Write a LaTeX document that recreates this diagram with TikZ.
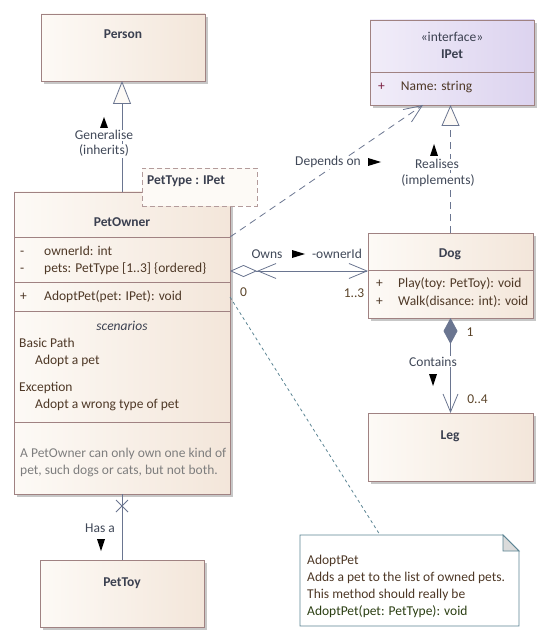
\documentclass[tikz,border=0pt]{standalone}
\usepackage{fontspec}
\setmainfont{Carlito}
\usetikzlibrary{arrows.meta,shadows}

\definecolor{boxleft}{HTML}{FDFAF6}
\definecolor{boxright}{HTML}{F3E6DA}
\definecolor{boxline}{HTML}{A08282}
\definecolor{ifleft}{HTML}{F1EDF9}
\definecolor{ifright}{HTML}{DCD3EF}
\definecolor{conn}{HTML}{6A7590}
\definecolor{nametext}{HTML}{3B4050}
\definecolor{membertext}{HTML}{4E3826}
\definecolor{plusmark}{HTML}{7A1E40}
\definecolor{greytext}{HTML}{7E7E7E}
\definecolor{noteline}{HTML}{5B8493}
\definecolor{labeltext}{HTML}{404858}
\definecolor{multtext}{HTML}{5A4328}

\newcommand{\diagfont}{\fontsize{13.5}{17}\selectfont}

\tikzset{
	classbox/.style={draw=boxline, line width=0.9pt, left color=boxleft, right color=boxright,
		anchor=north west, inner sep=0pt, outer sep=0pt,
		drop shadow={shadow xshift=3pt, shadow yshift=-3pt, fill=black!22, opacity=1}},
	clsname/.style={font=\diagfont\bfseries, text=nametext, anchor=base},
	member/.style={text=membertext, anchor=base west, inner sep=0pt},
	conline/.style={draw=conn, line width=0.8pt},
	lbl/.style={text=labeltext, anchor=base, fill=white, inner sep=1pt},
	mult/.style={text=multtext, anchor=base, inner sep=0pt},
	openhead/.tip={Straight Barb[length=18pt,width=15pt]},
}

\begin{document}
\begin{tikzpicture}[x=1pt, y=-1pt, font=\diagfont]
	\useasboundingbox (0,0) rectangle (552,644);

	\node[classbox, minimum width=164pt, minimum height=67pt] (person) at (41,14) {};
	\node[clsname] (personname) at (123,39) {Person};

	\node[classbox, left color=ifleft, right color=ifright, minimum width=164pt, minimum height=85pt] (ipet) at (370,20) {};
	\draw[boxline, line width=0.9pt] (ipet.west |- 0,72) -- (ipet.east |- 0,72);
	\node[anchor=base, text=nametext] (ipetstereo) at (452,41.5) {«interface»};
	\node[clsname] (ipetname) at (452,59) {IPet};
	\node[member] (ipetattr) at (378,91) {\makebox[22.7pt][l]{\color{plusmark}+}Name: string};

	\node[classbox, minimum width=216pt, minimum height=302pt] (petowner) at (14,192) {};
	\foreach \y in {237,282,311,422}
		\draw[boxline, line width=0.9pt] (petowner.west |- 0,\y) -- (petowner.east |- 0,\y);
	\node[clsname] (ownername) at (122,226) {PetOwner};
	\node[member] (ownerid) at (20,255) {\makebox[24pt][l]{-}ownerId: int};
	\node[member] (ownerpets) at (20,272) {\makebox[24pt][l]{-}pets: PetType [1..3] \{ordered\}};
	\node[member] (owneradopt) at (20,300) {\makebox[24pt][l]{+}AdoptPet(pet: IPet): void};
	\node[anchor=base, text=nametext, font=\diagfont\itshape] (scentitle) at (122,330) {scenarios};
	\node[member] (basicpath) at (19,347) {Basic Path};
	\node[member] (basicstep) at (35,364) {Adopt a pet};
	\node[member] (exception) at (19,391) {Exception};
	\node[member] (excstep) at (35,408) {Adopt a wrong type of pet};
	\node[member, text=greytext, anchor=north west, align=left] (ownernote) at (20,448)
		{A PetOwner can only own one kind of\\pet, such dogs or cats, but not both.};

	\node[draw=boxline!80, line width=0.9pt, dash pattern=on 5pt off 3pt, fill=boxleft,
		minimum width=115pt, minimum height=38pt, anchor=north west, inner sep=0pt, outer sep=0pt] (pettype) at (142,168) {};
	\node[member, text=nametext, font=\diagfont\bfseries] (pettypename) at (147,185) {PetType : IPet};

	\node[classbox, minimum width=165pt, minimum height=85pt] (dog) at (368,233) {};
	\draw[boxline, line width=0.9pt] (dog.west |- 0,270) -- (dog.east |- 0,270);
	\node[clsname] (dogname) at (450,257) {Dog};
	\node[member] (dogplay) at (376,287) {\makebox[22pt][l]{+}Play(toy: PetToy): void};
	\node[member] (dogwalk) at (376,305) {\makebox[22pt][l]{+}Walk(disance: int): void};

	\node[classbox, minimum width=165pt, minimum height=68pt] (leg) at (368,413) {};
	\node[clsname] (legname) at (450,439) {Leg};

	\node[classbox, minimum width=164pt, minimum height=67pt] (pettoy) at (40,560) {};
	\node[clsname] (pettoyname) at (122,586) {PetToy};

	\node[minimum width=219pt, minimum height=91pt, anchor=north west, inner sep=0pt, outer sep=0pt] (note) at (300,535) {};
	\draw[noteline, line width=0.9pt, fill=white] (note.north west) -- ([xshift=-16pt]note.north east)
		-- ([yshift=-16pt]note.north east) -- (note.south east) -- (note.south west) -- cycle;
	\draw[noteline, line width=0.9pt, fill=black!14] ([xshift=-16pt]note.north east)
		-- ([xshift=-16pt,yshift=-16pt]note.north east) -- ([yshift=-16pt]note.north east) -- cycle;
	\node[member, text=membertext, anchor=north west, align=left] (notetext) at (307,555)
		{AdoptPet\\Adds a pet to the list of owned pets.\\This method should really be\\\textcolor{multtext!80!green!60!black}{AdoptPet(pet: PetType): void}};

	% generalise
	\draw[conline, -{Triangle[length=23pt,width=18pt,fill=boxleft]}] (petowner.north) -- (petowner.north |- person.south);
	\node[lbl] (genlbl) at (104,140) {Generalise};
	\node[lbl] (genlbl2) at (104,155) {(inherits)};
	\fill (100,128) -- (104,117) -- (108,128) -- cycle;

	% realise
	\draw[conline, dash pattern=on 7pt off 5pt, -{Triangle[length=21pt,width=18pt,fill=boxleft]}] (dog.north) -- (dog.north |- ipet.south);
	\node[lbl] (reallbl) at (437,169) {Realises};
	\node[lbl] (reallbl2) at (438,185) {(implements)};
	\fill (430,156) -- (434,144) -- (438,156) -- cycle;

	% depends
	\draw[conline, dash pattern=on 7pt off 5pt, -{openhead}] ([yshift=106pt]petowner.east) -- ([xshift=-29pt]ipet.south);
	\node[lbl] (deplbl) at (328,166) {Depends on};
	\fill (368,158) -- (381,162) -- (368,166) -- cycle;

	% owns
	\draw[conline, {Diamond[length=27pt,width=12pt,fill=white] openhead}-{openhead}] ([yshift=72pt]petowner.east) -- ([yshift=4.5pt]dog.west);
	\node[mult, text=labeltext] (ownslbl) at (267,258) {Owns};
	\fill (292,250) -- (305,254) -- (292,258) -- cycle;
	\node[mult, text=labeltext] (ownsrole) at (337,258) {-ownerId};
	\node[mult] (ownsmin) at (243.5,296) {0};
	\node[mult] (ownsmax) at (354,297) {1..3};

	% contains
	\draw[conline, {Diamond[length=26pt,width=14pt,fill=conn]}-{openhead}] (dog.south) -- (leg.north);
	\node[mult] (contone) at (470,336) {1};
	\node[lbl] (contlbl) at (433,366) {Contains};
	\fill (429,374) -- (437,374) -- (433,386) -- cycle;
	\node[mult] (contmax) at (477.5,403) {0..4};

	% has a
	\draw[conline] (petowner.south) -- (pettoy.north);
	\draw[conline] ([xshift=-6pt,yshift=-6pt]petowner.south) -- ++(12,12);
	\draw[conline] ([xshift=6pt,yshift=-6pt]petowner.south) -- ++(-12,12);
	\node[lbl] (haslbl) at (100,532) {Has a};
	\fill (97,539) -- (105,539) -- (101,551) -- cycle;

	% note link
	\draw[noteline, line width=0.8pt, dash pattern=on 3pt off 3pt] ([yshift=46pt]petowner.east) -- ([xshift=-29.5pt]note.north);
\end{tikzpicture}
\end{document}
